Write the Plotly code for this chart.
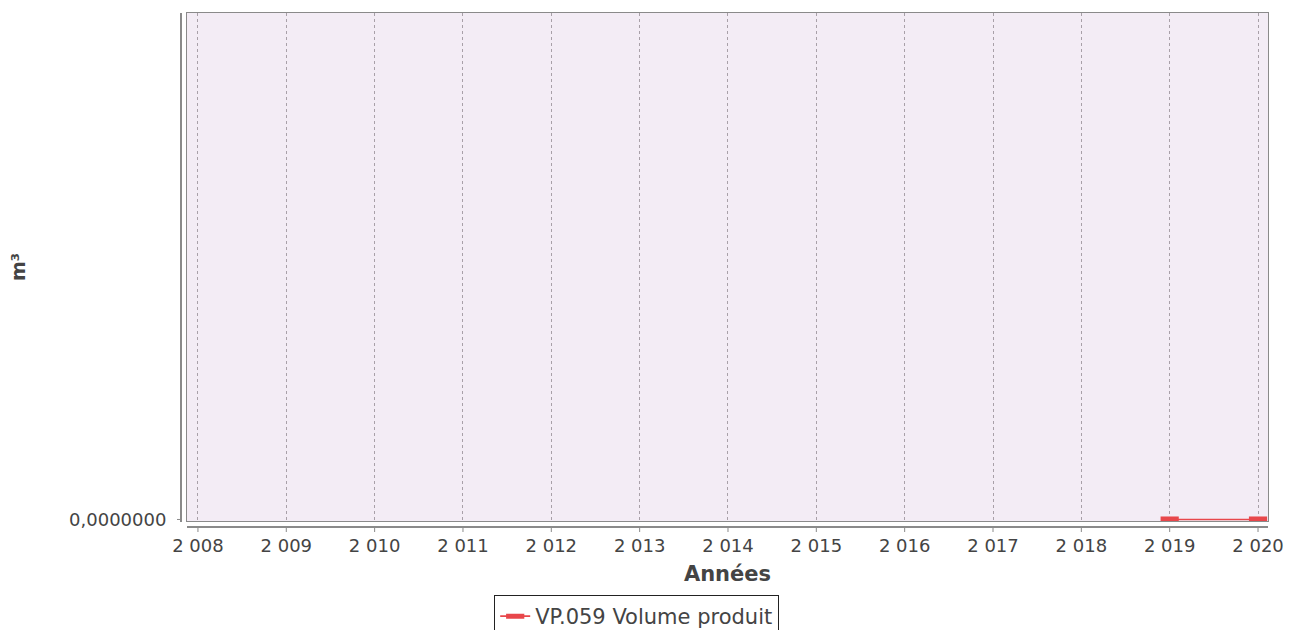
import plotly.graph_objects as go

years = list(range(2008, 2021))
tick_labels = ["2 008", "2 009", "2 010", "2 011", "2 012", "2 013", "2 014",
               "2 015", "2 016", "2 017", "2 018", "2 019", "2 020"]
series_name = "VP.059 Volume produit"
series_values = [None, None, None, None, None, None, None, None, None, None, None, 0, 0]
y_tick_vals = [0]
y_tick_labels = ["0,0000000"]

RED = "#E8474B"
GREY = "#8a8a8a"
FONT = "DejaVu Sans"
TXT = "#444444"

FIG_H = 700
PW, PH = 1081, 508

fig = go.Figure()
fig.add_trace(go.Scatter(
    x=years, y=series_values, mode="lines+markers", name=series_name,
    line=dict(color=RED, width=1.6),
    marker=dict(symbol="line-ew", size=13, color=RED,
                line=dict(color=RED, width=6)),
    connectgaps=False,
))

shapes = []
shapes.append(dict(type="line", xref="paper", yref="paper",
                   x0=-6/PW, x1=-6/PW, y0=-1/PH, y1=1,
                   line=dict(color=GREY, width=2)))
shapes.append(dict(type="line", xref="paper", yref="paper",
                   x0=0, x1=1, y0=-6/PH, y1=-6/PH,
                   line=dict(color=GREY, width=2)))
for yr in years:
    shapes.append(dict(type="line", xref="x", yref="paper",
                       x0=yr, x1=yr, y0=-7/PH, y1=-11/PH,
                       line=dict(color=GREY, width=1)))
for v in y_tick_vals:
    shapes.append(dict(type="line", xref="paper", yref="y",
                       x0=-6/PW, x1=-10/PW, y0=v, y1=v,
                       line=dict(color=GREY, width=1)))

fig.update_layout(
    width=1306, height=FIG_H,
    margin=dict(l=187, r=38, t=13, b=FIG_H - 13 - PH),
    paper_bgcolor="white",
    plot_bgcolor="#F3ECF5",
    font=dict(family=FONT, size=18, color=TXT),
    showlegend=True,
    legend=dict(orientation="h", x=0.416, xanchor="center", y=-74/PH, yanchor="top",
                bordercolor="#222222", borderwidth=1, bgcolor="white",
                font=dict(family=FONT, size=21, color=TXT),
                itemwidth=30),
    shapes=shapes,
    annotations=[dict(text="<b>m³</b>", xref="paper", yref="paper",
                      x=-169/PW, y=0.5, xanchor="center", yanchor="middle",
                      showarrow=False, textangle=-90,
                      font=dict(family=FONT, size=19, color=TXT))],
)
fig.update_xaxes(
    range=[2007.876, 2020.113], automargin=False,
    tickmode="array", tickvals=years, ticktext=tick_labels,
    ticks="", showline=True, linecolor=GREY, linewidth=1, mirror=True,
    showgrid=True, gridcolor="#a8a0a8", griddash="dot", gridwidth=1,
    zeroline=False,
    tickfont=dict(family=FONT, size=18, color=TXT),
    ticklabelstandoff=8,
    title=dict(text="<b>Années</b>", font=dict(family=FONT, size=21, color=TXT), standoff=11),
)
fig.update_yaxes(
    range=[-0.003, 1], automargin=False,
    tickmode="array", tickvals=y_tick_vals, ticktext=y_tick_labels,
    ticks="", showline=True, linecolor=GREY, linewidth=1, mirror=True,
    showgrid=False, zeroline=False,
    tickfont=dict(family=FONT, size=18, color=TXT),
    ticklabelstandoff=16,
)

post = ("document.body.style.margin='0';"
        "document.body.style.overflow='hidden';"
        "document.documentElement.style.overflow='hidden';")
fig.write_html("out.html", post_script=post, config={"displayModeBar": False})
